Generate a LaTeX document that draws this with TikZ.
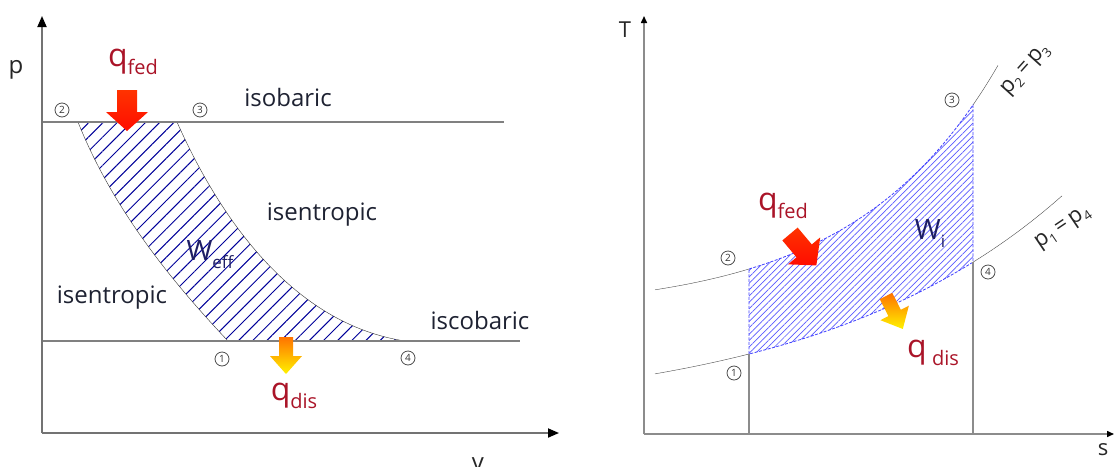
\documentclass[tikz,border=0pt]{standalone}
\usepackage{fontspec}
\setmainfont{Open Sans}
\usetikzlibrary{arrows.meta,patterns.meta}
\definecolor{labtext}{RGB}{30,34,50}
\definecolor{heatred}{RGB}{170,20,40}
\definecolor{worknavy}{RGB}{30,30,100}
\tikzset{
  ptmark/.style={circle,draw=black!70,line width=0.8pt,inner sep=0pt,minimum size=14pt,text=black!80,font=\fontsize{10}{10}\selectfont},
  lbl/.style={text=labtext,font=\fontsize{24}{28}\selectfont,inner sep=0pt},
  heat/.style={text=heatred,font=\fontsize{32}{36}\selectfont,inner sep=0pt},
  work/.style={text=worknavy,font=\fontsize{28}{32}\selectfont,inner sep=0pt},
  axislbl/.style={text=black!85,font=\fontsize{22}{26}\selectfont,inner sep=0pt},
  fedarrow/.pic={\path[pic actions] (-10,0) -- (10,0) -- (10,22) -- (21,22) -- (0,41) -- (-21,22) -- (-10,22) -- cycle;},
  disarrow/.pic={\path[pic actions] (-7,0) -- (7,0) -- (7,19) -- (16,19) -- (0,37) -- (-16,19) -- (-7,19) -- cycle;}
}
\begin{document}
\begin{tikzpicture}[x=1pt,y=-1pt,
    declare function={tup(\x)=269-43.16*(exp(0.007*(\x-749))-1);
                      tlo(\x)=354-63.4*(exp(0.004*(\x-749))-1);}]
\colorlet{hotA}{red!60!orange}
\colorlet{hotB}{red!90!orange}
\colorlet{coolA}{orange!90!red}
\colorlet{coolB}{yellow!90!orange}
\useasboundingbox (0,0) rectangle (1115,466);
% p-v diagram
\fill[pattern={Lines[angle=45,distance=10pt,line width=1pt]},pattern color=blue!60!black]
  (78,122) -- (177,122) .. controls (225,230) and (300,325) .. (405,341)
  -- (228,341) .. controls (180,290) and (115,215) .. cycle;
\draw[black!80,thin] (177,122) .. controls (225,230) and (300,325) .. (405,341);
\draw[black!80,thin] (228,341) .. controls (180,290) and (115,215) .. (78,122);
\draw[black!50,line width=1.5pt] (42,122) -- (504,122);
\draw[black!50,line width=1.5pt] (42,341) -- (520,341);
\draw[black!55,line width=1.8pt,-{Triangle[length=11pt,width=9pt,black]}] (42,433) -- (42,16);
\draw[black!55,line width=1.8pt,-{Triangle[length=11pt,width=9pt,black]}] (42,433) -- (559,433);
\node[axislbl,font=\fontsize{24}{28}\selectfont] (pax) at (16,70) {p};
\node[axislbl,font=\fontsize{24}{28}\selectfont] (vax) at (478,464) {v};
\node[ptmark] (pv2) at (62,110) {2};
\node[ptmark] (pv3) at (200,110) {3};
\node[ptmark] (pv1) at (222,359) {1};
\node[ptmark] (pv4) at (408,358) {4};
\pic[top color=hotA,bottom color=hotB] at (127,90) {fedarrow};
\pic[top color=coolA,bottom color=coolB] at (286,337) {disarrow};
\node[heat] (pvfed) at (133,62) {q\raisebox{-8pt}{\fontsize{20}{20}\selectfont fed}};
\node[heat] (pvdis) at (294,396) {q\raisebox{-8pt}{\fontsize{20}{20}\selectfont dis}};
\node[lbl] (upbar) at (288,97) {isobaric};
\node[lbl] (rtrop) at (322,215) {isentropic};
\node[lbl] (ltrop) at (112,298) {isentropic};
\node[lbl] (lobar) at (480,320) {iscobaric};
\node[work] (weff) at (210,255) {W\raisebox{-8pt}{\fontsize{17}{17}\selectfont eff}};
% T-s diagram
\fill[pattern={Lines[angle=45,distance=4.5pt,line width=0.7pt]},pattern color=blue!65]
  plot[domain=749:973,samples=40] (\x,{tup(\x)})
  -- plot[domain=973:749,samples=40] (\x,{tlo(\x)}) -- cycle;
\draw[blue!75,dash pattern=on 3pt off 1.5pt,line width=0.8pt]
  plot[domain=749:973,samples=40] (\x,{tup(\x)})
  -- plot[domain=973:749,samples=40] (\x,{tlo(\x)}) -- cycle;
\draw[black!70,thin] plot[domain=655:749,samples=15] (\x,{tup(\x)});
\draw[black!70,thin] plot[domain=973:998,samples=10] (\x,{tup(\x)});
\draw[black!70,thin] plot[domain=655:749,samples=15] (\x,{tlo(\x)});
\draw[black!70,thin] plot[domain=973:1062,samples=15] (\x,{tlo(\x)});
\draw[black!45,line width=1.2pt] (749,434) -- (749,354);
\draw[black!45,line width=1.2pt] (973,434) -- (973,262);
\draw[black!45,line width=1.5pt,-{Triangle[length=7pt,width=6pt,black]}] (644,434) -- (644,16);
\draw[black!45,line width=1.5pt,-{Triangle[length=7pt,width=6pt,black]}] (644,434) -- (1114,434);
\node[axislbl] (tax) at (625,30) {T};
\node[axislbl] (sax) at (1103,450) {s};
\node[ptmark] (ts2) at (728,258) {2};
\node[ptmark] (ts3) at (952,100) {3};
\node[ptmark] (ts4) at (988,272) {4};
\node[ptmark] (ts1) at (734,373) {1};
\pic[rotate=40,top color=hotA,bottom color=hotB] at (790,234) {fedarrow};
\pic[rotate=27,top color=coolA,bottom color=coolB] at (886,296) {disarrow};
\node[heat] (tsfed) at (783,206) {q\raisebox{-8pt}{\fontsize{20}{20}\selectfont fed}};
\node[heat] (tsdis) at (933,353) {q\,\raisebox{-8pt}{\fontsize{20}{20}\selectfont dis}};
\node[work] (wi) at (930,234) {W\raisebox{-8pt}{\fontsize{17}{17}\selectfont i}};
\node[axislbl,font=\fontsize{22}{26}\selectfont,rotate=48] (hip) at (1026,70) {p\raisebox{-5pt}{\fontsize{13}{13}\selectfont 2}\,=\,p\raisebox{-5pt}{\fontsize{13}{13}\selectfont 3}};
\node[axislbl,font=\fontsize{22}{26}\selectfont,rotate=34] (lop) at (1063,228) {p\raisebox{-5pt}{\fontsize{13}{13}\selectfont 1}\,=\,p\raisebox{-5pt}{\fontsize{13}{13}\selectfont 4}};
\end{tikzpicture}
\end{document}
